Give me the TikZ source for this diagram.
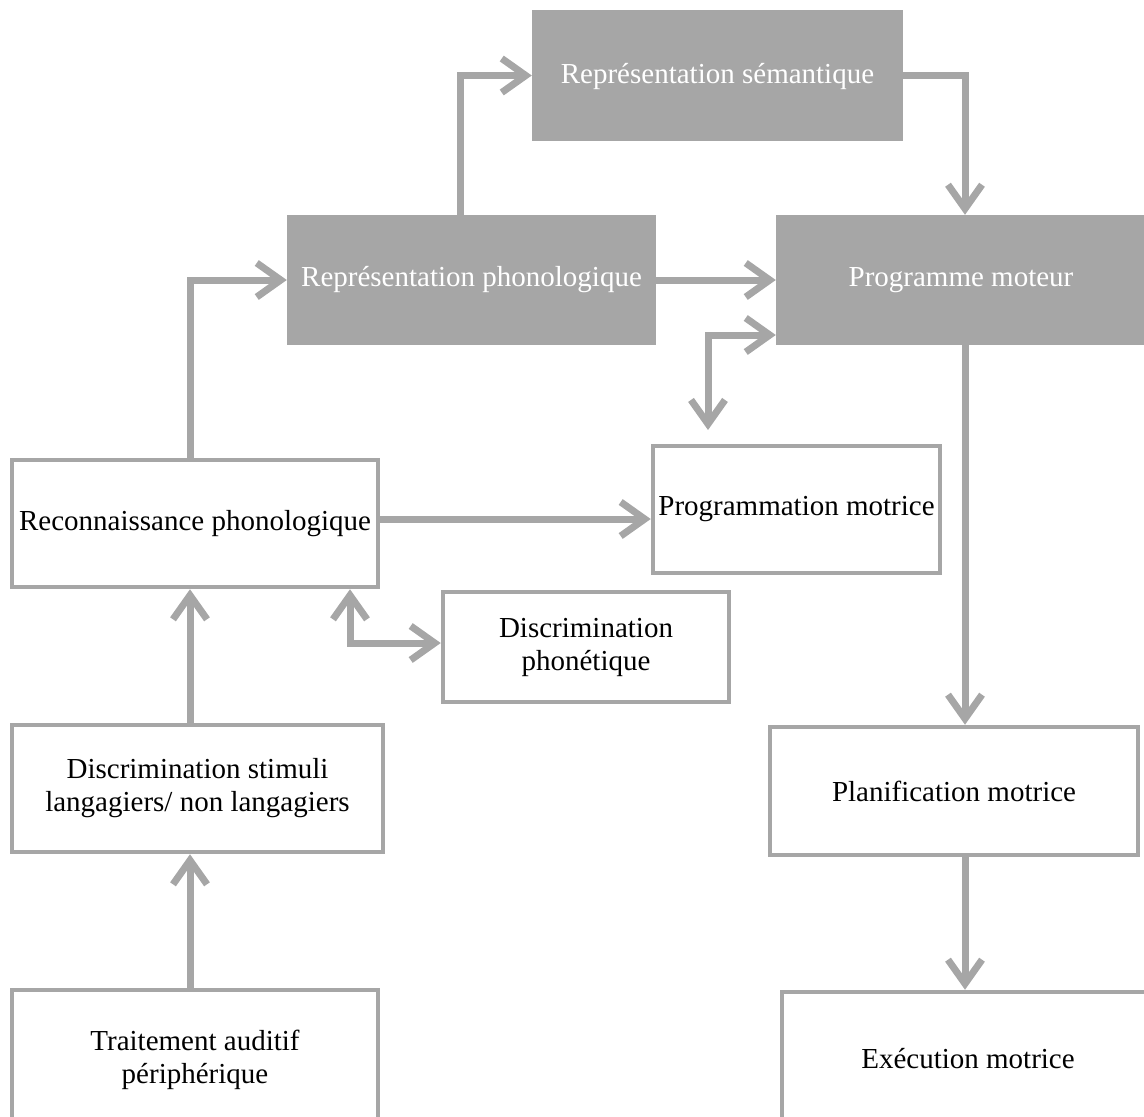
\documentclass[tikz,border=0pt]{standalone}
\usepackage{fontspec}
\setmainfont{Liberation Serif}
\usetikzlibrary{arrows.meta}
\definecolor{gr}{HTML}{A6A6A6}
\tikzset{
  dark/.style={fill=gr, draw=none, text=white, font=\fontsize{29}{33}\selectfont, align=center},
  light/.style={fill=white, draw=gr, line width=4.5pt, text=black, font=\fontsize{29}{33}\selectfont, align=center},
  conn/.style={draw=gr, line width=7pt, -{Straight Barb[length=24pt,width=34pt,line width=7pt]}},
  dconn/.style={draw=gr, line width=7pt, {Straight Barb[length=24pt,width=34pt,line width=7pt]}-{Straight Barb[length=24pt,width=34pt,line width=7pt]}}
}
\begin{document}
\begin{tikzpicture}[x=1pt,y=-1pt]
\useasboundingbox (0,0) rectangle (1144,1117);
% dark boxes
\node[dark, minimum width=371pt, minimum height=131pt, text depth=4pt] (sem) at (717.5,75.5) {Représentation sémantique};
\node[dark, minimum width=369pt, minimum height=130pt] (pho) at (471.5,280) {Représentation phonologique};
\node[dark, minimum width=370pt, minimum height=130pt] (pm) at (961,280) {Programme moteur};
% light boxes
\node[light, minimum width=366pt, minimum height=127pt] (rec) at (195,523.5) {Reconnaissance phonologique};
\node[light, minimum width=287pt, minimum height=127pt] (pgm) at (796.5,509.5) {Programmation motrice};
\node[light, minimum width=286pt, minimum height=110pt] (dph) at (586,647) {Discrimination\\phonétique};
\node[light, minimum width=371pt, minimum height=127pt] (dst) at (197.5,788.5) {Discrimination stimuli\\langagiers/ non langagiers};
\node[light, minimum width=368pt, minimum height=128pt] (pla) at (954,791) {Planification motrice};
\node[light, minimum width=366pt, minimum height=140pt] (tra) at (195,1060) {Traitement auditif\\périphérique};
\node[light, minimum width=372pt, minimum height=140pt] (exe) at (968,1062) {\raisebox{7pt}{Exécution motrice}};
% connectors
\draw[conn] (pho.north -| 460,0) |- (sem.west);
\draw[conn] (sem.east) -| (pm.north -| 965,0);
\draw[conn] (pho.east) -- (pm.west);
\coordinate (c1) at (708,335);
\coordinate (c1e) at (708,430);
\draw[dconn] (c1e) |- (pm.west |- c1);
\draw[conn] (rec.north -| 190,0) |- (pho.west);
\draw[conn] (rec.east |- 0,519) -- (pgm.west |- 0,519);
\coordinate (c2) at (350,643);
\draw[dconn] (rec.south -| c2) |- (dph.west |- c2);
\draw[conn] (dst.north -| 190,0) -- (rec.south -| 190,0);
\draw[conn] (tra.north -| 190,0) -- (dst.south -| 190,0);
\draw[conn] (pm.south -| 965,0) -- (pla.north -| 965,0);
\draw[conn] (pla.south -| 965,0) -- (exe.north -| 965,0);
\end{tikzpicture}
\end{document}
